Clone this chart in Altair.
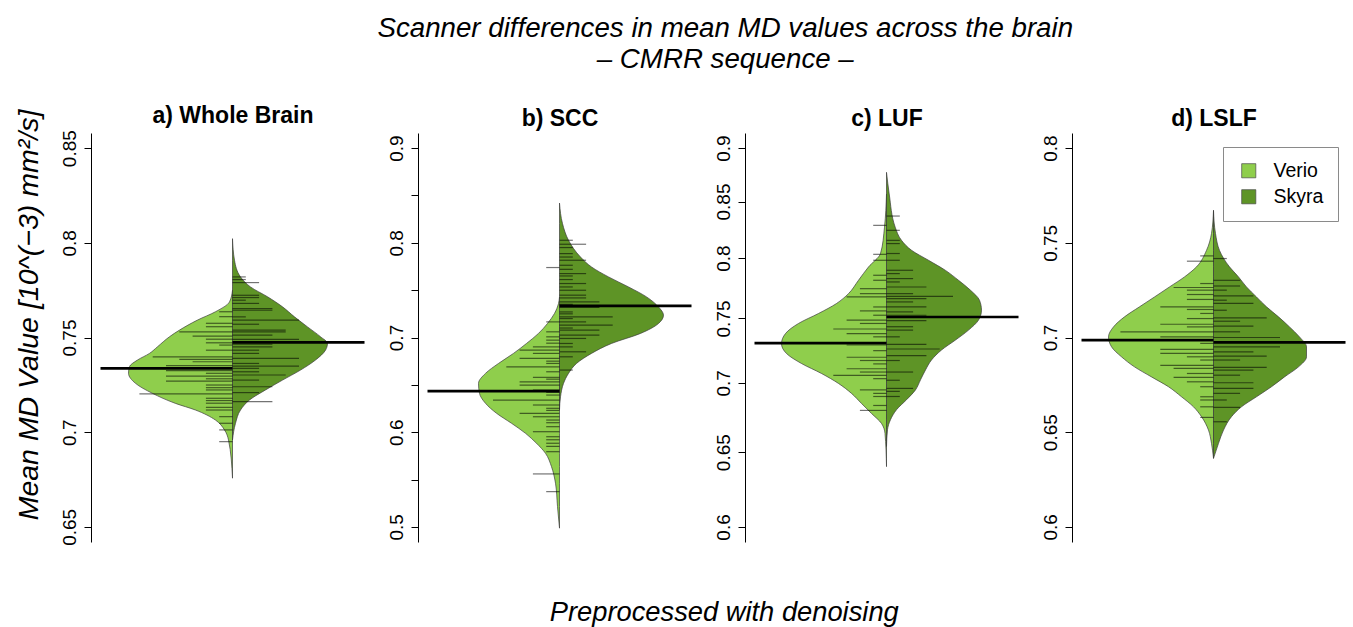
import altair as alt
import pandas as pd

FONT = "Liberation Sans"
LIGHT = "#8fce4c"
DARK = "#5e9426"
UNIT = 13.3        # bean-line length per stacked observation (bean units)
MEAN_LEN = 132     # length of the mean line (bean units)
XDOM = [-141.5, 136.5]

scanners = ["Verio", "Skyra"]
titles = ["a) Whole Brain", "b) SCC", "c) LUF", "d) LSLF"]

# ---------------- a) Whole Brain ----------------
a_verio_y = [0.6757, 0.6959, 0.7012, 0.7064, 0.7117, 0.7152, 0.7205, 0.7258, 0.7311, 0.7346,
             0.7381, 0.7416, 0.7451, 0.7504, 0.7539, 0.7592, 0.7636, 0.7688, 0.775]
a_verio_w = [0, 4, 8, 17, 37, 57, 80, 97, 104, 103, 95, 83, 75, 63, 53, 35, 17, 3, 0]
a_skyra_y = [0.6959, 0.7047, 0.7117, 0.717, 0.7223, 0.7275, 0.7328, 0.7381, 0.7433, 0.7469,
             0.7504, 0.7556, 0.7609, 0.7662, 0.7715, 0.7767, 0.782, 0.7908, 0.8022]
a_skyra_w = [0, 3, 8, 17, 33, 50, 68, 83, 93, 95, 88, 75, 62, 50, 35, 18, 8, 2, 0]
a_verio_lines = [0.7636, 0.761, 0.7575, 0.7557, 0.753, 0.7507, 0.7491, 0.7472, 0.746, 0.7433,
                 0.7398, 0.7384, 0.7372, 0.7351, 0.7325, 0.7311, 0.7296, 0.7282, 0.727, 0.7249,
                 0.7235, 0.7223, 0.7202, 0.7179, 0.7167, 0.7153, 0.7131, 0.7117, 0.7082, 0.7047,
                 0.7012, 0.695]
a_verio_n = [1, 1, 2, 2, 4, 3, 2, 2, 1, 2, 6, 4, 3, 5, 5, 2, 5, 2, 5, 2, 2, 2, 7, 2, 2, 2, 2, 2, 1, 1, 1, 1]
a_skyra_lines = [0.782, 0.7806, 0.779, 0.7723, 0.7711, 0.7697, 0.768, 0.7653, 0.7644, 0.7609,
                 0.7592, 0.757, 0.7539, 0.753, 0.7513, 0.749, 0.7465, 0.7451, 0.7433, 0.7416,
                 0.739, 0.7363, 0.7349, 0.7337, 0.7319, 0.7302, 0.7275, 0.724, 0.7209, 0.7161]
a_skyra_n = [1, 1, 2, 2, 2, 1, 2, 3, 3, 1, 5, 2, 4, 4, 3, 5, 3, 3, 2, 2, 5, 2, 5, 2, 2, 4, 2, 3, 2, 3]
a_means = [0.7337, 0.7474]
a_ticks = [0.65, 0.7, 0.75, 0.8, 0.85]
a_domain = [0.642, 0.858]

# ---------------- b) SCC ----------------
b_verio_y = [0.4986, 0.5214, 0.5461, 0.5636, 0.5777, 0.5883, 0.5988, 0.6094, 0.62, 0.6305, 0.641,
             0.6515, 0.6621, 0.6726, 0.6832, 0.6937, 0.7043, 0.7148, 0.7254, 0.7359, 0.7429]
b_verio_w = [0, 2, 4, 8, 14, 23, 34, 48, 63, 74, 80, 81, 74, 61, 46, 33, 21, 12, 5, 1, 0]
b_skyra_y = [0.6234, 0.6374, 0.6515, 0.6621, 0.6726, 0.6832, 0.6937, 0.7043, 0.7148, 0.7236,
             0.7323, 0.7429, 0.7534, 0.764, 0.7745, 0.785, 0.8027, 0.8203, 0.842]
b_skyra_w = [0, 1, 4, 9, 17, 32, 52, 81, 99, 104, 99, 87, 69, 49, 32, 21, 9, 3, 0]
b_verio_lines = [0.5372, 0.5559, 0.5794, 0.585, 0.5883, 0.592, 0.5952, 0.6005, 0.6058, 0.61,
                 0.6128, 0.6163, 0.6199, 0.623, 0.6252, 0.6287, 0.6339, 0.6392, 0.642, 0.6445,
                 0.6497, 0.6532, 0.656, 0.6579, 0.6638, 0.669, 0.6726, 0.675, 0.6779, 0.6832,
                 0.6867, 0.6901, 0.694, 0.6972, 0.7007, 0.706, 0.7165, 0.7739]
b_verio_n = [1, 2, 1, 1, 1, 1, 1, 2, 1, 1, 1, 2, 3, 1, 1, 2, 5, 1, 1, 2, 3, 3, 1, 2, 1, 4, 1, 1, 3, 2,
             3, 2, 1, 1, 1, 1, 1, 1]
b_skyra_lines = [0.8027, 0.7985, 0.795, 0.7886, 0.785, 0.7816, 0.7763, 0.772, 0.7675, 0.765,
                 0.7612, 0.757, 0.7534, 0.7499, 0.7447, 0.7418, 0.7376, 0.735, 0.7317, 0.727,
                 0.725, 0.7218, 0.72, 0.7165, 0.713, 0.71, 0.7077, 0.7025, 0.699, 0.6937,
                 0.6901, 0.6849, 0.6796, 0.6656]
b_skyra_n = [1, 2, 1, 1, 1, 2, 1, 1, 2, 1, 1, 2, 1, 2, 2, 2, 3, 1, 3, 1, 1, 4, 1, 2, 4, 1, 3, 3, 2, 1,
             1, 2, 1, 1]
b_means = [0.6434, 0.7334]
b_ticks = [0.5, 0.55, 0.6, 0.65, 0.7, 0.75, 0.8, 0.85, 0.9]
b_domain = [0.484, 0.916]

# ---------------- c) LUF (log axis) ----------------
c_verio_y = [0.640, 0.6632, 0.6703, 0.6775, 0.6848, 0.6922, 0.6996, 0.7071, 0.7147, 0.7224, 0.730,
             0.738, 0.746, 0.754, 0.7621, 0.7702, 0.7813, 0.7925, 0.804, 0.827, 0.857]
c_verio_w = [0, 1.5, 5, 15, 25, 35, 48, 65, 85, 100, 105, 101, 88, 68, 50, 38, 28, 18, 6, 2, 0]
c_skyra_y = [0.654, 0.6658, 0.673, 0.6802, 0.6875, 0.6948, 0.7023, 0.7098, 0.7174, 0.7251, 0.7329,
             0.7407, 0.7487, 0.7567, 0.7648, 0.773, 0.7813, 0.7896, 0.7982, 0.8068, 0.8154,
             0.827, 0.857, 0.877]
c_skyra_w = [0, 1, 4, 10, 20, 29, 34, 39, 45, 55, 69, 82, 92, 95, 93, 84, 72, 59, 42, 25, 15,
             8.7, 2.7, 0]
c_verio_lines = [0.8286, 0.8033, 0.7982, 0.7855, 0.7813, 0.7743, 0.7702, 0.7675, 0.7593, 0.7561,
                 0.7526, 0.7487, 0.746, 0.7416, 0.738, 0.7354, 0.729, 0.7246, 0.7195, 0.717,
                 0.7144, 0.7107, 0.7082, 0.7057, 0.7032, 0.6948, 0.6922, 0.6899, 0.6833, 0.6797]
c_verio_n = [1, 1, 1, 1, 1, 2, 2, 3, 1, 2, 1, 3, 2, 4, 3, 1, 3, 1, 3, 2, 1, 3, 2, 4, 1, 2, 1, 1, 1, 2]
c_skyra_lines = [0.8369, 0.8242, 0.8154, 0.8126, 0.804, 0.7982, 0.7897, 0.7869, 0.7827, 0.7799,
                 0.7757, 0.7702, 0.768, 0.7661, 0.7634, 0.7593, 0.7553, 0.7526, 0.7482, 0.7434,
                 0.7407, 0.7354, 0.7295, 0.7259, 0.7208, 0.717, 0.7082, 0.702, 0.6959, 0.6937,
                 0.6899]
c_skyra_n = [1, 1, 1, 1, 1, 1, 2, 1, 2, 1, 3, 2, 5, 3, 2, 3, 2, 3, 3, 2, 2, 1, 3, 4, 3, 1, 2, 1, 2,
             1, 1]
c_means = [0.7305, 0.7512]
c_ticks = [0.6, 0.65, 0.7, 0.75, 0.8, 0.85, 0.9]
c_domain = [0.5904, 0.9147]

# ---------------- d) LSLF ----------------
d_verio_y = [0.6362, 0.6441, 0.6511, 0.6582, 0.6634, 0.6687, 0.674, 0.6792, 0.6845, 0.6898, 0.6951,
             0.7003, 0.7056, 0.7109, 0.7162, 0.7214, 0.7267, 0.732, 0.7373, 0.746, 0.7549, 0.7671]
d_verio_w = [0, 2, 5, 12, 20, 32, 45, 62, 79, 92, 102, 105, 100, 89, 74, 59, 44, 29, 17, 7, 2, 0]
d_skyra_y = [0.6362, 0.6441, 0.6511, 0.6582, 0.6634, 0.6687, 0.674, 0.6792, 0.6845, 0.6898, 0.6951,
             0.7003, 0.7056, 0.7109, 0.7162, 0.7214, 0.7267, 0.732, 0.7373, 0.746, 0.7549, 0.7671]
d_skyra_w = [0, 5, 10, 18, 28, 43, 58, 71, 85, 93, 93, 86, 76, 65, 53, 43, 33, 25, 16, 6, 2, 0]
d_verio_lines = [0.7431, 0.7403, 0.7285, 0.7264, 0.725, 0.7227, 0.7201, 0.7162, 0.7148, 0.7127,
                 0.71, 0.707, 0.7056, 0.703, 0.7003, 0.6969, 0.6937, 0.6916, 0.6898, 0.6881,
                 0.6853, 0.6837, 0.681, 0.6789, 0.6766, 0.674, 0.6687, 0.667, 0.6634, 0.6578]
d_verio_n = [1, 2, 1, 3, 2, 2, 2, 4, 2, 1, 2, 4, 2, 7, 4, 1, 4, 4, 2, 1, 4, 3, 2, 3, 2, 1, 1, 1, 1, 1]
d_skyra_lines = [0.7417, 0.7302, 0.7272, 0.725, 0.722, 0.7197, 0.718, 0.7144, 0.7104, 0.7086,
                 0.706, 0.703, 0.7, 0.6951, 0.6924, 0.6902, 0.6881, 0.6842, 0.6828, 0.6801,
                 0.6761, 0.6731, 0.6705, 0.667, 0.6631, 0.6555]
d_skyra_n = [1, 2, 2, 1, 3, 1, 3, 1, 4, 2, 3, 2, 5, 5, 3, 4, 2, 4, 3, 2, 3, 3, 2, 1, 2, 1]
d_means = [0.6986, 0.6974]
d_ticks = [0.6, 0.65, 0.7, 0.75, 0.8]
d_domain = [0.592, 0.808]


def side_df(ys, ws, scanner, sign):
    return pd.DataFrame({"value": ys, "x0": [sign * w for w in ws], "x1": [0] * len(ws),
                         "scanner": scanner})


def lines_df(vl, vn, sl, sn):
    left = pd.DataFrame({"value": vl, "x0": [-n * UNIT for n in vn], "x1": [0] * len(vl)})
    right = pd.DataFrame({"value": sl, "x0": [0] * len(sl), "x1": [n * UNIT for n in sn]})
    return pd.concat([left, right], ignore_index=True)


def means_df(m):
    return pd.DataFrame({"value": m, "x0": [-MEAN_LEN, 0], "x1": [0, MEAN_LEN]})


def panel(title, vy, vw, sy, sw, vl, vn, sl, sn, means, ticks, domain,
          log=False, every_other=False, legend=False):
    axis_kw = dict(values=ticks, labelAngle=270, labelAlign="center", labelBaseline="bottom",
                   labelFontSize=19, labelFont=FONT, labelColor="black", labelPadding=5,
                   tickSize=7, tickColor="black", domainColor="black", grid=False,
                   labelOverlap=False, format=".2~f", title=None)
    if every_other:
        axis_kw["labelExpr"] = ("abs(datum.value*10 - round(datum.value*10)) < 0.001 ? "
                                "format(datum.value, '.1~f') : ''")
    yscale = alt.Scale(domain=domain, type="log" if log else "linear", nice=False, zero=False)
    y = alt.Y("value:Q", scale=yscale, axis=alt.Axis(**axis_kw))
    xscale = alt.Scale(domain=XDOM, nice=False, zero=False)
    x = alt.X("x0:Q", scale=xscale, axis=None, stack=False)

    area_kw = dict(orient="horizontal", interpolate="monotone", stroke="#3c3c3c", strokeWidth=0.7)
    if legend:
        # legend sits in the top-level group, whose origin is panel a's plot corner
        leg = alt.Legend(title=None, orient="none", legendX=1132, legendY=14, symbolType="square",
                         symbolSize=200, symbolStrokeColor="#4a4a4a", symbolStrokeWidth=0.7,
                         symbolOffset=2, labelFontSize=19.5, labelFont=FONT, labelColor="black",
                         labelOffset=15, padding=14, rowPadding=5, strokeColor="#8a8a8a",
                         fillColor="white")
        both = pd.concat([side_df(vy, vw, "Verio", -1), side_df(sy, sw, "Skyra", 1)],
                         ignore_index=True)
        both["x1"], both["x0"] = [min(v, 0) for v in both["x0"]], [max(v, 0) for v in both["x0"]]
        beans = [alt.Chart(both).mark_area(**area_kw).encode(
            y=y, x=x, x2="x1:Q",
            fill=alt.Fill("scanner:N", scale=alt.Scale(domain=scanners, range=[LIGHT, DARK]),
                          legend=leg))]
    else:
        beans = [
            alt.Chart(side_df(vy, vw, "Verio", -1)).mark_area(fill=LIGHT, **area_kw).encode(
                y=y, x=x, x2="x1:Q"),
            alt.Chart(side_df(sy, sw, "Skyra", 1)).mark_area(fill=DARK, **area_kw).encode(
                y=y, x=x, x2="x1:Q"),
        ]
    blines = alt.Chart(lines_df(vl, vn, sl, sn)).mark_rule(
        color="black", opacity=0.55, strokeWidth=1.2
    ).encode(y=y, x=x, x2="x1:Q")
    mlines = alt.Chart(means_df(means)).mark_rule(color="black", strokeWidth=2.6).encode(
        y=y, x=x, x2="x1:Q")
    return alt.layer(*beans, blines, mlines).properties(
        width=XDOM[1] - XDOM[0], height=409,
        title=alt.TitleParams(title, fontSize=23, fontWeight="bold", font=FONT, color="black",
                              anchor="middle", offset=2, dx=3),
    )


pa = panel(titles[0], a_verio_y, a_verio_w, a_skyra_y, a_skyra_w, a_verio_lines, a_verio_n,
           a_skyra_lines, a_skyra_n, a_means, a_ticks, a_domain)
pb = panel(titles[1], b_verio_y, b_verio_w, b_skyra_y, b_skyra_w, b_verio_lines, b_verio_n,
           b_skyra_lines, b_skyra_n, b_means, b_ticks, b_domain, every_other=True)
pc = panel(titles[2], c_verio_y, c_verio_w, c_skyra_y, c_skyra_w, c_verio_lines, c_verio_n,
           c_skyra_lines, c_skyra_n, c_means, c_ticks, c_domain, log=True)
pd_ = panel(titles[3], d_verio_y, d_verio_w, d_skyra_y, d_skyra_w, d_verio_lines, d_verio_n,
            d_skyra_lines, d_skyra_n, d_means, d_ticks, d_domain, legend=True)

inner = alt.hconcat(
    pa, pb, pc, pd_, spacing=49, bounds="flush",
    title=alt.TitleParams("Mean MD Value [10^(\u22123) mm\u00b2/s]", orient="left",
                          fontSize=28.5, font=FONT, fontStyle="italic", fontWeight="normal",
                          color="black", anchor="middle", offset=17, dx=10),
).resolve_scale(y="independent", x="independent")

middle = alt.vconcat(
    inner,
    title=alt.TitleParams("Preprocessed with denoising", orient="bottom", fontSize=27.3,
                          font=FONT, fontStyle="italic", fontWeight="normal", color="black",
                          anchor="middle", offset=54, dx=42),
)

chart = alt.vconcat(
    middle,
    title=alt.TitleParams(["Scanner differences in mean MD values across the brain",
                           "\u2013 CMRR sequence \u2013"],
                          fontSize=27.7, font=FONT, fontStyle="italic", fontWeight="normal",
                          color="black", anchor="middle", lineHeight=31, offset=31, dx=43),
).properties(
    padding={"left": 14, "top": 14, "right": 0, "bottom": 0},
).configure_view(strokeWidth=0)

chart.save("out.html", embed_options={"renderer": "svg", "actions": False})
